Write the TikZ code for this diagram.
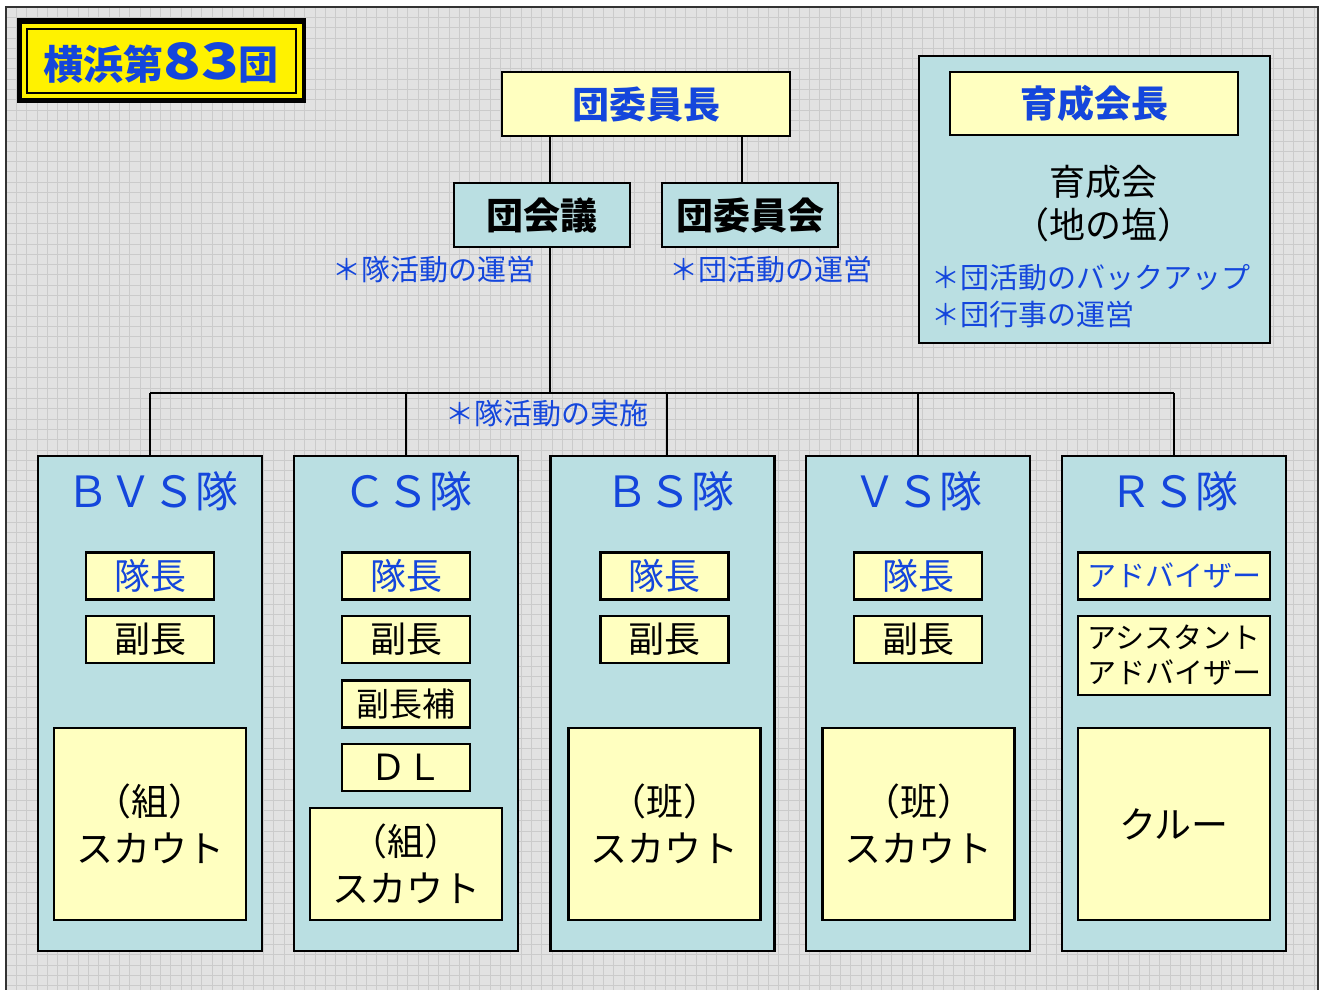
\documentclass[tikz,border=0pt]{standalone}
\usepackage{fontspec}
\setmainfont{Noto Sans CJK JP}
\definecolor{bgray}{RGB}{226,226,226}
\definecolor{gline}{RGB}{203,203,203}
\definecolor{teal1}{RGB}{186,223,226}
\definecolor{lyel}{RGB}{255,255,192}
\definecolor{tblue}{RGB}{20,70,220}
\tikzset{
  ybox/.style={draw=black, line width=2.5pt, fill=lyel, inner sep=0pt, align=center},
  tbox/.style={draw=black, line width=2.5pt, fill=teal1, inner sep=0pt, align=center},
  conn/.style={draw=black, line width=2.2pt},
  note/.style={text=tblue, inner sep=0pt, font=\fontsize{29}{34}\selectfont},
}
\begin{document}
\begin{tikzpicture}[x=1pt,y=-1pt]
\useasboundingbox (0,0) rectangle (1324,989);
% background
\fill[bgray] (6,7) rectangle (1318,995);
\foreach \i in {0,...,127} {\draw[gline,line width=0.8pt] (6+10.3*\i,7) -- (6+10.3*\i,995);}
\foreach \j in {0,...,96} {\draw[gline,line width=0.8pt] (6,7+10.3*\j) -- (1318,7+10.3*\j);}
\draw[black!80,line width=1.5pt] (6,995) -- (6,7) -- (1318,7) -- (1318,995);

% title
\node[fill=black, minimum width=289, minimum height=85, inner sep=0pt] (titleouter) at (161.5,60.5) {};
\node[fill=yellow, minimum width=280, minimum height=74, inner sep=0pt] (titlebox) at (161.5,60.5) {};
\draw[black, line width=1.5pt] (27,29) rectangle (296,93);
\node[text=tblue, font=\fontsize{40}{44}\selectfont, inner sep=0pt] (title) at (161,63) {\textbf{横浜第\scalebox{1.55}[1.25]{83}団}};

% top
\node[ybox, minimum width=288, minimum height=64, font=\fontsize{37}{40}\selectfont\bfseries, text=tblue] (dicho) at (646,104) {団委員長};
\node[tbox, minimum width=176, minimum height=64, font=\fontsize{37}{40}\selectfont\bfseries] (kaigi) at (542,215) {団会議};
\node[tbox, minimum width=176, minimum height=64, font=\fontsize{37}{40}\selectfont\bfseries] (iinkai) at (750,215) {団委員会};
\coordinate (xa) at (550,0);
\coordinate (xb) at (742,0);
\coordinate (bar) at (550,393);
\draw[conn] (dicho.south -| xa) -- (kaigi.north -| xa);
\draw[conn] (dicho.south -| xb) -- (iinkai.north -| xb);
\draw[conn] (kaigi.south -| xa) -- (bar);

\node[note, anchor=west] (n1) at (332,270) {＊隊活動の運営};
\node[note, anchor=west] (n2) at (669,270) {＊団活動の運営};
\node[note, anchor=west] (n3) at (445,414) {＊隊活動の実施};

% ikuseikai
\node[tbox, minimum width=351, minimum height=287] (iku) at (1094.5,199.5) {};
\node[ybox, minimum width=288, minimum height=63, font=\fontsize{37}{40}\selectfont\bfseries, text=tblue] (ikucho) at (1094,103.5) {育成会長};
\node[inner sep=0pt, align=center, font=\fontsize{36}{43}\selectfont] (ikutext) at (1103,204) {育成会\\（地の塩）};
\node[note, anchor=west, align=left, font=\fontsize{29}{37}\selectfont] (ikunote) at (931,296) {＊団活動のバックアップ\\＊団行事の運営};

% units
\tikzset{unit/.style={tbox, minimum width=224, minimum height=495},
  utitle/.style={text=tblue, inner sep=0pt, font=\fontsize{43}{48}\selectfont},
  role/.style={ybox, minimum width=128, minimum height=47, font=\fontsize{36}{40}\selectfont},
  scout/.style={ybox, minimum width=192, minimum height=192, font=\fontsize{37}{47}\selectfont}}

\node[unit] (bvs) at (150,703.5) {};
\node[unit] (cs) at (406,703.5) {};
\node[unit] (bs) at (662.5,703.5) {};
\node[unit] (vs) at (918,703.5) {};
\node[unit] (rs) at (1174,703.5) {};

\coordinate (bsx) at (667,0);
\draw[conn] (bar -| bvs.north) -- (bar -| rs.north);
\draw[conn] (bar -| bvs.north) -- (bvs.north);
\draw[conn] (bar -| cs.north) -- (cs.north);
\draw[conn] (bar -| bsx) -- (bs.north -| bsx);
\draw[conn] (bar -| vs.north) -- (vs.north);
\draw[conn] (bar -| rs.north) -- (rs.north);

\node[utitle] (bvst) at (152,491) {ＢＶＳ隊};
\node[utitle] (cst) at (408,491) {ＣＳ隊};
\node[utitle] (bst) at (670,491) {ＢＳ隊};
\node[utitle] (vst) at (918,491) {ＶＳ隊};
\node[utitle] (rst) at (1174,491) {ＲＳ隊};

% BVS
\node[role, text=tblue] (bvs1) at (150,576) {隊長};
\node[role] (bvs2) at (150,639.5) {副長};
\node[scout] (bvs3) at (150,824) {（組）\\スカウト};
% CS
\node[role, text=tblue] (cs1) at (406,576) {隊長};
\node[role] (cs2) at (406,639.5) {副長};
\node[role, font=\fontsize{33}{38}\selectfont] (cs3) at (406,704) {副長補};
\node[role] (cs4) at (406,767.5) {ＤＬ};
\node[scout, minimum height=112] (cs5) at (406,864) {（組）\\スカウト};
% BS
\node[role, text=tblue] (bs1) at (664.5,576) {隊長};
\node[role] (bs2) at (664.5,639.5) {副長};
\node[scout] (bs3) at (664.5,824) {（班）\\スカウト};
% VS
\node[role, text=tblue] (vs1) at (918,576) {隊長};
\node[role] (vs2) at (918,639.5) {副長};
\node[scout] (vs3) at (918.5,824) {（班）\\スカウト};
% RS
\node[role, minimum width=192, text=tblue, font=\fontsize{29}{34}\selectfont] (rs1) at (1174,576) {アドバイザー};
\node[role, minimum width=192, minimum height=79, font=\fontsize{29}{35}\selectfont] (rs2) at (1174,655.5) {アシスタント\\アドバイザー};
\node[scout] (rs3) at (1174,824) {クルー};
\end{tikzpicture}
\end{document}
